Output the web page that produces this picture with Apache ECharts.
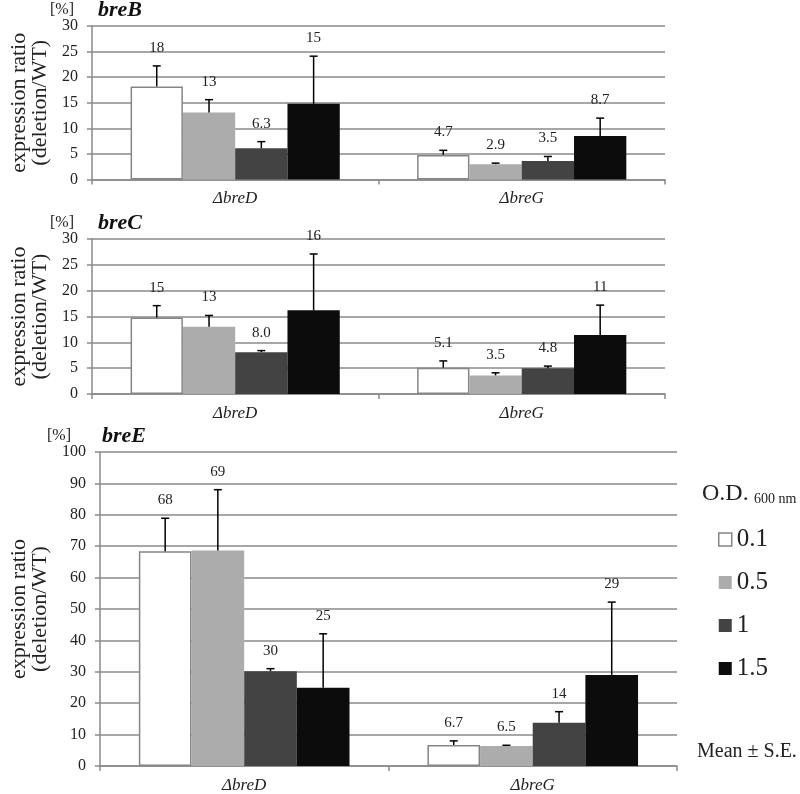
<!DOCTYPE html>
<html>
<head>
<meta charset="utf-8">
<script src="https://cdn.jsdelivr.net/npm/echarts@6/dist/echarts.min.js"></script>
<style>html,body{margin:0;padding:0;background:#fff}#c{width:800px;height:794px}</style>
</head>
<body>
<div id="c"></div>
<script>
// ---------- data ----------
const categories = ['ΔbreD', 'ΔbreG'];
const odLevels = ['0.1', '0.5', '1', '1.5'];
const genes = ['breB', 'breC', 'breE'];

// breB
const breB_breD = [18.2, 13.1, 6.1, 14.8];
const breB_breD_se = [4.0, 2.5, 1.3, 9.3];
const breB_breD_lbl = ['18', '13', '6.3', '15'];
const breB_breG = [4.8, 3.0, 3.6, 8.5];
const breB_breG_se = [0.9, 0.2, 0.9, 3.5];
const breB_breG_lbl = ['4.7', '2.9', '3.5', '8.7'];
// breC
const breC_breD = [14.8, 13.0, 8.1, 16.2];
const breC_breD_se = [2.3, 2.2, 0.3, 10.9];
const breC_breD_lbl = ['15', '13', '8.0', '16'];
const breC_breG = [5.1, 3.6, 5.0, 11.4];
const breC_breG_se = [1.3, 0.5, 0.4, 5.8];
const breC_breG_lbl = ['5.1', '3.5', '4.8', '11'];
// breE
const breE_breD = [68.4, 68.6, 30.2, 24.9];
const breE_breD_se = [10.5, 19.4, 0.8, 17.2];
const breE_breD_lbl = ['68', '69', '30', '25'];
const breE_breG = [6.7, 6.4, 13.8, 29.0];
const breE_breG_se = [1.3, 0.2, 3.5, 23.2];
const breE_breG_lbl = ['6.7', '6.5', '14', '29'];

const yMax = [30, 30, 100];
const yStep = [5, 5, 10];

// ---------- build ----------
const panels = [
  {D: breB_breD, Dse: breB_breD_se, Dl: breB_breD_lbl, G: breB_breG, Gse: breB_breG_se, Gl: breB_breG_lbl},
  {D: breC_breD, Dse: breC_breD_se, Dl: breC_breD_lbl, G: breC_breG, Gse: breC_breG_se, Gl: breC_breG_lbl},
  {D: breE_breD, Dse: breE_breD_se, Dl: breE_breD_lbl, G: breE_breG, Gse: breE_breG_se, Gl: breE_breG_lbl}
];

const SERIF = '"Liberation Serif","Times New Roman",serif';
const GRID_C = '#8a8a8a';
const barColors = ['#ffffff', '#acacac', '#434343', '#0c0c0c'];
const CAT_GAP = 0.27;

const gridPos = [
  {left: 84, top: 26, width: 581, height: 153.5},
  {left: 84, top: 239, width: 581, height: 155},
  {left: 83, top: 452, width: 594, height: 316}
];

const grid = [], xAxis = [], yAxis = [], series = [];
panels.forEach((p, k) => {
  grid.push(gridPos[k]);
  xAxis.push({
    type: 'category', gridIndex: k, data: categories,
    axisLine: {show: true, lineStyle: {color: GRID_C, width: 1.5}},
    axisTick: {show: true, length: 5, lineStyle: {color: GRID_C, width: 1.5}},
    axisLabel: {fontFamily: SERIF, fontStyle: 'italic', fontSize: 17, color: '#222', margin: 11}
  });
  yAxis.push({
    type: 'value', gridIndex: k, min: 0, max: yMax[k], interval: yStep[k],
    name: 'expression ratio\n(deletion/WT)', nameLocation: 'middle', nameGap: 40, nameRotate: 90,
    nameTextStyle: {fontFamily: SERIF, fontSize: 22, color: '#222', lineHeight: 21},
    axisLine: {show: true, lineStyle: {color: GRID_C, width: 1.5}},
    axisTick: {show: true, length: 5, lineStyle: {color: GRID_C, width: 1.5}},
    axisLabel: {fontFamily: SERIF, fontSize: 16, color: '#222', margin: 14},
    splitLine: {show: true, lineStyle: {color: GRID_C, width: 1.5}}
  });
  odLevels.forEach((od, i) => {
    series.push({
      type: 'bar', name: od, xAxisIndex: k, yAxisIndex: k,
      data: [p.D[i], p.G[i]],
      barGap: '0%', barCategoryGap: (CAT_GAP * 100) + '%',
      itemStyle: i === 0 ? {color: barColors[i], borderColor: '#858585', borderWidth: 1.5}
                         : {color: barColors[i], borderWidth: 0},
      emphasis: {disabled: true}, animation: false
    });
  });
  const errData = [];
  [[p.D, p.Dse, p.Dl], [p.G, p.Gse, p.Gl]].forEach((g, c) => {
    odLevels.forEach((od, i) => errData.push([c, g[0][i], g[1][i], g[2][i], i]));
  });
  series.push({
    type: 'custom', xAxisIndex: k, yAxisIndex: k, z: 5, animation: false,
    data: errData,
    renderItem: function (params, api) {
      const c = api.value(0), v = api.value(1), se = api.value(2), i = api.value(4);
      const lbl = errData[params.dataIndex][3];
      const bw = api.size([1, 0])[0] * (1 - CAT_GAP) / 4;
      const cx = api.coord([c, 0])[0] + (i - 1.5) * bw;
      const yb = api.coord([c, v])[1];
      const yt = api.coord([c, v + se])[1];
      const ls = {stroke: '#000', lineWidth: 1.5};
      return {
        type: 'group', children: [
          {type: 'line', shape: {x1: cx, y1: yb, x2: cx, y2: yt}, style: ls},
          {type: 'line', shape: {x1: cx - 4, y1: yt, x2: cx + 4, y2: yt}, style: ls},
          {type: 'text', style: {text: lbl, x: cx, y: yt - 18, align: 'center', verticalAlign: 'middle',
            fontFamily: SERIF, fontSize: 15, fill: '#222'}}
        ]
      };
    }
  });
});

const titleTops = [11, 224, 437];
const graphic = [];
genes.forEach((g, k) => {
  graphic.push({type: 'text', left: k === 2 ? 47 : 50, top: titleTops[k] - 9,
    style: {text: '[%]', fontFamily: SERIF, fontSize: 16, fill: '#222'}});
  graphic.push({type: 'text', left: k === 2 ? 102 : 98, top: titleTops[k] - 12,
    style: {text: g, fontFamily: SERIF, fontSize: 22, fontWeight: 'bold', fontStyle: 'italic', fill: '#111'}});
});
graphic.push({type: 'text', left: 702, top: 482, style: {text: 'O.D.', fontFamily: SERIF, fontSize: 24, fill: '#222'}});
graphic.push({type: 'text', left: 754, top: 492, style: {text: '600 nm', fontFamily: SERIF, fontSize: 14, fill: '#222'}});
graphic.push({type: 'text', left: 697, top: 742, style: {text: 'Mean ± S.E.', fontFamily: SERIF, fontSize: 20, fill: '#222'}});

const option = {
  backgroundColor: '#fff',
  animation: false,
  grid, xAxis, yAxis, series, graphic,
  legend: {
    orient: 'vertical', left: 713, top: 522, itemGap: 18,
    itemWidth: 13, itemHeight: 13, itemTextGap: 6, icon: 'rect',
    selectedMode: false,
    data: odLevels.map((od, i) => ({name: od, itemStyle: i === 0 ? {color: '#fff', borderColor: '#858585', borderWidth: 1.5} : {color: barColors[i], borderWidth: 0}})),
    textStyle: {fontFamily: SERIF, fontSize: 25, color: '#222', lineHeight: 24}
  }
};
const chart = echarts.init(document.getElementById('c'), null, {renderer: 'canvas'});
chart.setOption(option);
</script>
</body>
</html>
